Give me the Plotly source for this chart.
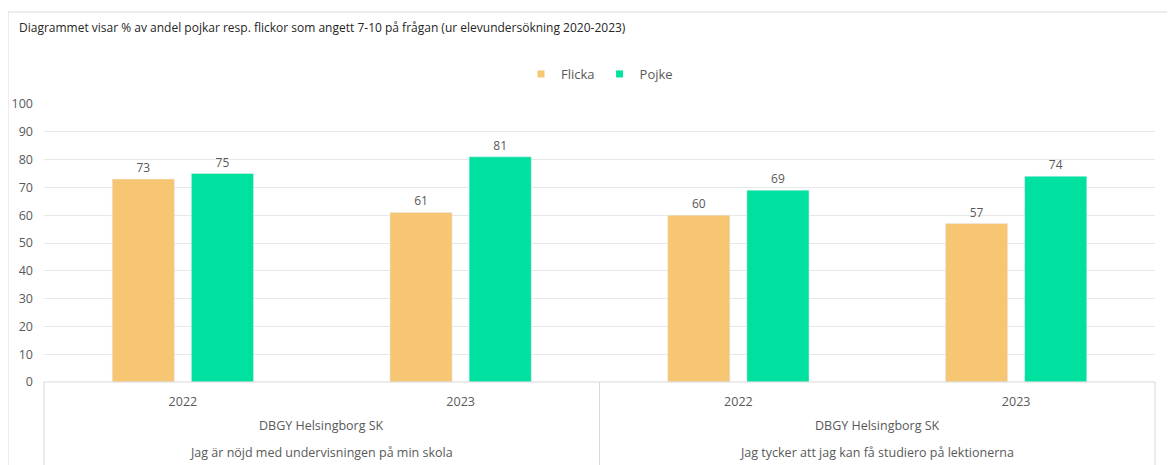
import plotly.graph_objects as go

years = ["2022", "2023", "2022", "2023"]
school = "DBGY Helsingborg SK"
questions = ["Jag är nöjd med undervisningen på min skola",
             "Jag tycker att jag kan få studiero på lektionerna"]
series_names = ["Flicka", "Pojke"]
flicka = [73, 61, 60, 57]
pojke = [75, 81, 69, 74]
title = "Diagrammet visar % av andel pojkar resp. flickor som angett 7-10 på frågan (ur elevundersökning 2020-2023)"

# page body has an 8px margin; work in figure coordinates (reference - 8)
OFF = 8
W, H = 1175 - OFF, 465 - OFF
L, T = 44 - OFF, 104 - OFF
R = W - (1155 - OFF)
B = H - (382 - OFF)
pw, ph = W - L - R, H - T - B


def px(x):
    return (x - OFF - L) / pw


def py(y):
    return 1 + (T - (y - OFF)) / ph


xs = list(range(len(years)))
grey = "#595959"
font = "Open Sans"
colors = ["#F7C673", "#00E09E"]

fig = go.Figure()
for name, vals, col in zip(series_names, [flicka, pojke], colors):
    fig.add_bar(x=xs, y=vals, name=name, marker_color=col, showlegend=False,
                text=vals, textposition="outside", cliponaxis=False,
                textfont=dict(color=grey, size=12, family=font))
for name, col in zip(series_names, colors):
    fig.add_scatter(x=[None], y=[None], mode="markers", name=name,
                    marker=dict(symbol="square", size=7, color=col))

shapes = []
line_c = "#D9D9D9"
# outer chart border
shapes.append(dict(type="line", xref="paper", yref="paper", x0=px(8), x1=px(1200),
                   y0=py(12), y1=py(12), line=dict(color=line_c, width=1)))
shapes.append(dict(type="line", xref="paper", yref="paper", x0=px(8), x1=px(8),
                   y0=py(12), y1=py(480), line=dict(color=line_c, width=1)))
# category box
shapes.append(dict(type="line", xref="paper", yref="paper", x0=0, x1=1,
                   y0=0, y1=0, line=dict(color=line_c, width=1)))
for xv in [0, 0.5, 1]:
    shapes.append(dict(type="line", xref="paper", yref="paper", x0=xv, x1=xv,
                       y0=0, y1=py(480), line=dict(color=line_c, width=1)))

annotations = [dict(text=title, xref="paper", yref="paper", x=px(17), y=py(28),
                    xanchor="left", yanchor="middle", showarrow=False,
                    font=dict(size=12, color="#262626", family=font))]
for gi, q in enumerate(questions):
    cx = (xs[2 * gi] + xs[2 * gi + 1]) / 2
    annotations.append(dict(text=school, x=cx, xref="x", yref="paper", y=py(425),
                            yanchor="middle", showarrow=False,
                            font=dict(size=12.5, color=grey, family=font)))
    annotations.append(dict(text=q, x=cx, xref="x", yref="paper", y=py(452),
                            yanchor="middle", showarrow=False,
                            font=dict(size=12.5, color=grey, family=font)))

fig.update_layout(
    width=W, height=H,
    margin=dict(l=L, r=R, t=T, b=B, autoexpand=False),
    plot_bgcolor="white", paper_bgcolor="white",
    barmode="group", bargap=0.43, bargroupgap=0.215,
    font=dict(family=font, color=grey, size=12),
    legend=dict(orientation="h", x=0.5, xanchor="center", y=py(74), yanchor="middle",
                font=dict(size=13, color=grey, family=font), itemwidth=30,
                tracegroupgap=0),
    shapes=shapes, annotations=annotations,
    showlegend=True,
)
fig.update_xaxes(tickvals=xs, ticktext=years, range=[-0.5, len(xs) - 0.5],
                 showgrid=False, zeroline=False, showline=False, ticks="",
                 automargin=False,
                 tickfont=dict(size=12.5, color=grey, family=font), ticklabelstandoff=10)
fig.update_yaxes(range=[0, 100], dtick=10, showgrid=True, gridcolor="#E8E8E8",
                 zeroline=False, showline=False, ticks="", automargin=False,
                 tickfont=dict(size=12.5, color=grey, family=font), ticklabelstandoff=10)

fig.write_html("out.html")
